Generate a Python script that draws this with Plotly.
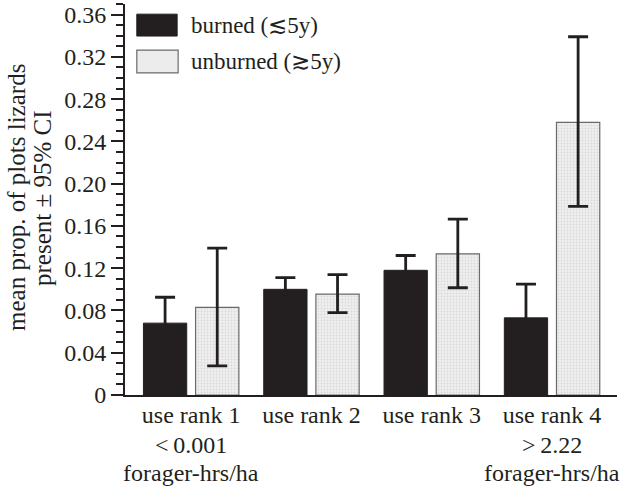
import plotly.graph_objects as go

categories = ["use rank 1", "use rank 2", "use rank 3", "use rank 4"]
extra_labels = {"use rank 1": ["<\u20090.001", "forager-hrs/ha"],
                "use rank 4": [">\u20092.22", "forager-hrs/ha"]}
burned = [0.068, 0.100, 0.118, 0.073]
burned_hi = [0.0925, 0.111, 0.132, 0.105]
unburned = [0.083, 0.0955, 0.1335, 0.258]
unburned_hi = [0.139, 0.114, 0.1665, 0.339]
unburned_lo = [0.0275, 0.078, 0.1015, 0.1785]
yticks = [0, 0.04, 0.08, 0.12, 0.16, 0.20, 0.24, 0.28, 0.32, 0.36]
ytick_labels = ["0", "0.04", "0.08", "0.12", "0.16", "0.20", "0.24", "0.28", "0.32", "0.36"]
ytitle_lines = ["mean prop. of plots lizards", "present ± 95% CI"]

FONT = "'Liberation Serif', 'Times New Roman', Times, serif"
DARK = "#231f20"
FS = 24

fig = go.Figure()
fig.add_trace(go.Bar(
    x=categories, y=burned, name="burned (≲5y)",
    marker=dict(color=DARK, line=dict(color=DARK, width=1)),
    error_y=dict(type="data", array=[h - v for h, v in zip(burned_hi, burned)],
                 arrayminus=[h - v for h, v in zip(burned_hi, burned)],
                 color=DARK, thickness=2.8, width=10),
))
fig.add_trace(go.Bar(
    x=categories, y=unburned, name="unburned (≳5y)",
    marker=dict(color="#ececec", line=dict(color="#6a6a6a", width=1.2),
                pattern=dict(shape=".", fgcolor="#c4c4c4", bgcolor="#efefef", size=3, solidity=0.3)),
    error_y=dict(type="data", array=[h - v for h, v in zip(unburned_hi, unburned)],
                 arrayminus=[v - l for v, l in zip(unburned, unburned_lo)],
                 color=DARK, thickness=2.8, width=10),
))

# legend drawn manually
fig.add_shape(type="rect", xref="paper", yref="paper", x0=0.024, x1=0.106, y0=0.918, y1=0.974,
              fillcolor=DARK, line=dict(color=DARK, width=1))
fig.add_shape(type="rect", xref="paper", yref="paper", x0=0.024, x1=0.108, y0=0.824, y1=0.882,
              fillcolor="#ececec", line=dict(color="#6a6a6a", width=1.2))
fig.add_annotation(xref="paper", yref="paper", x=0.13, y=0.944, text="burned (≲5y)", showarrow=False,
                   xanchor="left", yanchor="middle", font=dict(family=FONT, size=23, color=DARK))
fig.add_annotation(xref="paper", yref="paper", x=0.13, y=0.852, text="unburned (≳5y)", showarrow=False,
                   xanchor="left", yanchor="middle", font=dict(family=FONT, size=23, color=DARK))

# extra lines of x labels
for cat, lines in extra_labels.items():
    for i, line in enumerate(lines):
        fig.add_annotation(xref="x", yref="paper", x=cat, y=0, text=line, showarrow=False,
                           xanchor="center", yanchor="middle", yshift=-50 - 28 * i,
                           font=dict(family=FONT, size=FS, color=DARK))

# y title lines
for i, line in enumerate(ytitle_lines):
    fig.add_annotation(xref="paper", yref="paper", x=-0.2195 + 0.053 * i, y=0.504, text=line,
                       showarrow=False, textangle=-90, xanchor="center", yanchor="middle",
                       font=dict(family=FONT, size=25, color=DARK))

fig.update_layout(
    width=630, height=489,
    margin=dict(l=125, r=13, t=4, b=94, autoexpand=False),
    plot_bgcolor="white", paper_bgcolor="white",
    barmode="group", bargap=0.133, bargroupgap=0.17,
    showlegend=False,
    font=dict(family=FONT, size=FS, color=DARK),
    xaxis=dict(range=[-0.55, 3.54], showline=True, linecolor=DARK, linewidth=2,
               ticks="", showgrid=False, ticklabelstandoff=-3, automargin=False,
               tickfont=dict(family=FONT, size=FS, color=DARK)),
    yaxis=dict(range=[0, 0.37], tickvals=yticks, ticktext=ytick_labels, showline=True,
               linecolor=DARK, linewidth=2, ticks="outside", ticklen=12, tickwidth=2,
               tickcolor=DARK, showgrid=False, zeroline=False, ticklabelstandoff=0, automargin=False,
               minor=dict(dtick=0.01, tick0=0, ticks="outside", ticklen=7, tickwidth=2, tickcolor=DARK),
               tickfont=dict(family=FONT, size=FS, color=DARK)),
)

fig.write_html("out.html", config={"displayModeBar": False},
               post_script="document.body.style.margin='0';document.body.style.overflow='hidden';")
